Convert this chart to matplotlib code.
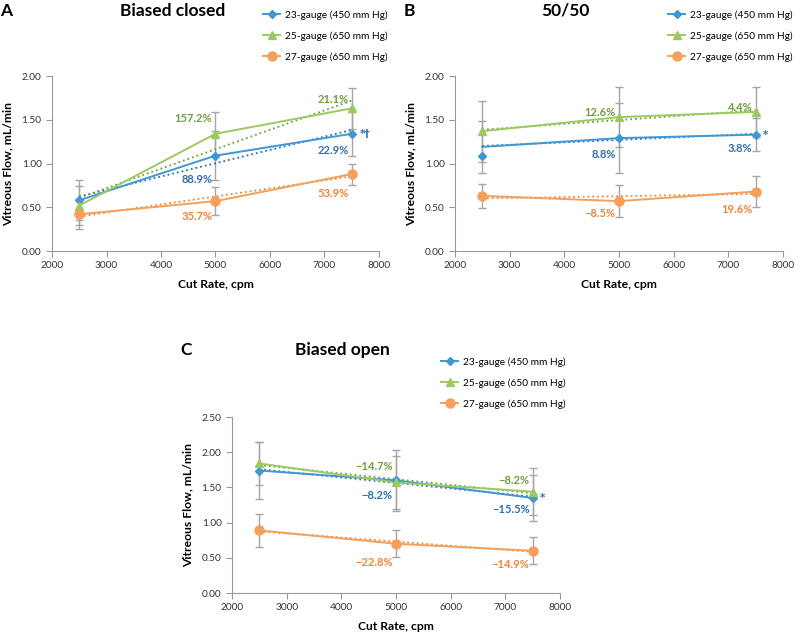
import numpy as np
import matplotlib
matplotlib.use("Agg")
import matplotlib.pyplot as plt

plt.rcParams['font.family'] = ['Lato', 'DejaVu Sans']

cut_rate = [2500, 5000, 7500]
series_names = ['23-gauge (450 mm Hg)', '25-gauge (650 mm Hg)', '27-gauge (650 mm Hg)']

# panel A: biased closed
a_flow = [[0.58, 1.09, 1.34], [0.52, 1.34, 1.63], [0.42, 0.57, 0.88]]
a_err = [[0.23, 0.28, 0.25], [0.22, 0.25, 0.23], [0.17, 0.16, 0.12]]
a_pct = [['88.9%', '22.9%'], ['157.2%', '21.1%'], ['35.7%', '53.9%']]

# panel B: 50/50 (first 23-gauge marker sits below its line in the original)
b_flow = [[1.19, 1.29, 1.33], [1.37, 1.53, 1.59], [0.63, 0.57, 0.68]]
b_marker_23 = [1.09, 1.29, 1.33]
b_err = [[0.30, 0.40, 0.19], [0.35, 0.34, 0.29], [0.14, 0.18, 0.18]]
b_pct = [['8.8%', '3.8%'], ['12.6%', '4.4%'], ['\u22128.5%', '19.6%']]

# panel C: biased open
c_flow = [[1.74, 1.60, 1.35], [1.84, 1.57, 1.44], [0.89, 0.70, 0.60]]
c_err = [[0.40, 0.43, 0.33], [0.31, 0.37, 0.33], [0.235, 0.195, 0.19]]
c_pct = [['\u22128.2%', '\u221215.5%'], ['\u221214.7%', '\u22128.2%'], ['\u221222.8%', '\u221214.9%']]

line_cols = ['#3f98d4', '#9dc963', '#f5a05a']
text_cols = ['#2d6fae', '#6f9e3c', '#ee8538']
markers = ['D', '^', 'o']
msizes = [4, 6, 6.5]

fig = plt.figure(figsize=(7.94, 6.35), dpi=100)


def draw_panel(rect, flow, err, pct, label_y, ymax, letter, title, title_x, letter_x, head_y,
               leg_anchor, note, marker_override=None):
    ax = fig.add_axes(rect)
    x = np.array(cut_rate)
    for i in range(3):
        y = np.array(flow[i])
        ax.errorbar(x, y, yerr=err[i], fmt='none', ecolor='#a6a6a6', elinewidth=1,
                    capsize=3, capthick=1, zorder=1)
    for i in range(3):
        y = np.array(flow[i])
        k, b = np.polyfit(x, y, 1)
        ax.plot(x[[0, -1]], k * x[[0, -1]] + b, ':', color=text_cols[i], lw=1.3, zorder=2)
        ax.plot(x, y, '-', color=line_cols[i], lw=1.4, zorder=3)
        my = y if (marker_override is None or i != 0) else np.array(marker_override)
        ax.plot(x, my, linestyle='none', marker=markers[i], ms=msizes[i],
                color=line_cols[i], zorder=4)
        # legend proxy
        ax.plot([], [], '-', marker=markers[i], ms=msizes[i], color=line_cols[i],
                lw=1.4, label=series_names[i])
        for j in range(2):
            ax.text(x[j + 1] - 60, label_y[i][j], pct[i][j], ha='right', va='center',
                    color=text_cols[i], fontsize=8, fontweight='bold')
    ax.text(7640, flow[0][2], note, ha='left', va='center', color=text_cols[0],
            fontsize=7.5, fontweight='bold', family=['DejaVu Sans'])
    ax.set_xlim(2000, 8000)
    ax.set_ylim(0, ymax)
    ax.set_xticks(range(2000, 8001, 1000))
    ax.set_yticks(np.arange(0, ymax + 0.01, 0.5))
    ax.yaxis.set_major_formatter(matplotlib.ticker.FormatStrFormatter('%.2f'))
    ax.tick_params(labelsize=7.3, colors='#999999', labelcolor='#333333', length=4,
                   direction='out', width=0.8)
    for s in ['top', 'right']:
        ax.spines[s].set_visible(False)
    for s in ['left', 'bottom']:
        ax.spines[s].set_color('#999999')
        ax.spines[s].set_linewidth(0.8)
    ax.set_xlabel('Cut Rate, cpm', fontsize=8.7, fontweight='bold', labelpad=6)
    ax.set_ylabel('Vitreous Flow, mL/min', fontsize=8.7, fontweight='bold', labelpad=6)
    fig.text(letter_x, head_y, letter, fontsize=12.5, fontweight='bold', va='center')
    fig.text(title_x, head_y, title, fontsize=12.5, fontweight='bold', va='center', ha='center')
    ax.legend(loc='upper left', bbox_to_anchor=leg_anchor, bbox_transform=fig.transFigure,
              frameon=False, fontsize=7.3, labelspacing=1.15, handlelength=1.7,
              handletextpad=0.45, borderpad=0, borderaxespad=0)
    return ax


draw_panel([0.0655, 0.6047, 0.4118, 0.2756], a_flow, a_err, a_pct,
           [[0.82, 1.15], [1.51, 1.73], [0.39, 0.655]], 2.0, 'A', 'Biased closed',
           173 / 794, 0.0, 1 - 11 / 635, (263 / 794, 1 - 10 / 635), '*\u2020')
draw_panel([0.573, 0.6047, 0.4131, 0.2756], b_flow, b_err, b_pct,
           [[1.10, 1.17], [1.58, 1.64], [0.43, 0.48]], 2.0, 'B', '50/50',
           565 / 794, 404 / 794, 1 - 11 / 635, (668 / 794, 1 - 10 / 635), '*',
           marker_override=b_marker_23)
draw_panel([0.2922, 0.0661, 0.4131, 0.2772], c_flow, c_err, c_pct,
           [[1.38, 1.18], [1.79, 1.605], [0.43, 0.41]], 2.5, 'C', 'Biased open',
           342 / 794, 180 / 794, 1 - 350 / 635, (441 / 794, 1 - 357 / 635), '*')

fig.savefig('out.png', dpi=100)
